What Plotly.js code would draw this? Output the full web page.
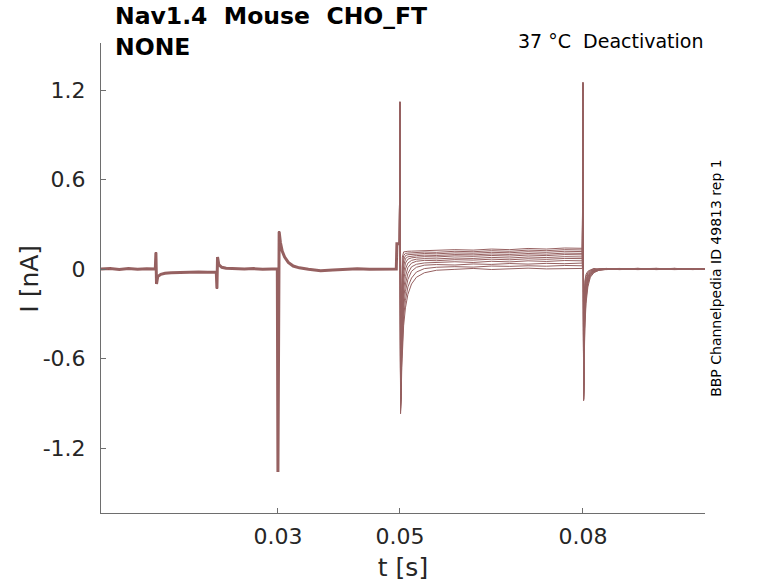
<!DOCTYPE html>
<html>
<head>
<meta charset="utf-8">
<script src="https://cdn.plot.ly/plotly-3.0.1.min.js"></script>
<style>
  body { margin: 0; background: #fff; }
  #main-plot { width: 778px; height: 583px; }
</style>
</head>
<body>
<div id="main-plot"></div>
<script>
// shared part of every sweep (holding + pre-pulses + activating step), time in s, current in nA
const tPre = [0.0010, 0.0025, 0.0040, 0.0055, 0.0070, 0.0085, 0.0099, 0.0100, 0.0101, 0.0103,
  0.0108, 0.0115, 0.0125, 0.0140, 0.0155, 0.0170, 0.0185, 0.0199, 0.0200, 0.0201,
  0.0203, 0.0208, 0.0215, 0.0230, 0.0245, 0.0260, 0.0275, 0.0290, 0.0299, 0.0300,
  0.0302, 0.0304, 0.0307, 0.0311, 0.0317, 0.0325, 0.0335, 0.0350, 0.0370, 0.0390,
  0.0410, 0.0430, 0.0450, 0.0470, 0.0494, 0.0495, 0.0499];
const iPre = [0.000, 0.004, -0.003, 0.003, -0.002, 0.002, 0.000, 0.11, -0.10, -0.05,
  -0.035, -0.028, -0.025, -0.022, -0.024, -0.020, -0.022, -0.022, -0.13, 0.08,
  0.03, 0.012, 0.005, 0.002, 0.000, 0.003, -0.002, 0.001, 0.000, -1.36,
  0.25, 0.18, 0.12, 0.08, 0.045, 0.02, 0.008, -0.002, -0.012, -0.006,
  0.000, 0.002, -0.002, 0.001, 0.000, 0.17, 0.17];

// deactivation step + tail, one array per sweep
const tPost = [0.0500, 0.0501, 0.0502, 0.0503, 0.0504, 0.0506, 0.0509, 0.0513, 0.0519, 0.0527,
  0.0540, 0.0560, 0.0590, 0.0620, 0.0650, 0.0680, 0.0710, 0.0740, 0.0770, 0.0799,
  0.0800, 0.0801, 0.0802, 0.0803, 0.0805, 0.0808, 0.0812, 0.0818, 0.0826, 0.0838,
  0.0860, 0.0890, 0.0920, 0.0950, 0.0980, 0.1000];
const sweep1 = [1.10, -0.97, -0.85, -0.66, -0.52, -0.38, -0.26, -0.17, -0.10, -0.055, -0.025, -0.008, -0.002, 0.004, -0.003, 0.002, 0.006, 0.001, 0.005, 0.004, 1.20, -0.80, -0.22, -0.08, -0.035, -0.015, -0.006, 0.004, -0.003, 0.002, -0.004, 0.003, -0.002, 0.004, -0.003, 0.001];
const sweep2 = [1.11, -0.95, -0.80, -0.60, -0.46, -0.32, -0.21, -0.12, -0.06, -0.02, 0.003, 0.012, 0.016, 0.013, 0.020, 0.018, 0.022, 0.019, 0.024, 0.022, 1.21, -0.82, -0.28, -0.11, -0.05, -0.022, -0.01, 0.002, -0.005, 0.004, -0.002, 0.005, -0.004, 0.002, 0.000, -0.003];
const sweep3 = [1.11, -0.94, -0.76, -0.55, -0.40, -0.26, -0.15, -0.07, -0.015, 0.012, 0.026, 0.030, 0.027, 0.034, 0.031, 0.037, 0.033, 0.038, 0.036, 0.040, 1.22, -0.83, -0.33, -0.14, -0.07, -0.03, -0.014, -0.003, 0.003, -0.004, 0.002, -0.003, 0.004, -0.002, 0.003, 0.000];
const sweep4 = [1.12, -0.93, -0.72, -0.50, -0.34, -0.20, -0.10, -0.03, 0.015, 0.032, 0.041, 0.045, 0.049, 0.044, 0.052, 0.048, 0.055, 0.051, 0.057, 0.055, 1.22, -0.84, -0.38, -0.17, -0.085, -0.04, -0.018, -0.006, 0.001, 0.004, -0.003, 0.002, -0.001, 0.005, -0.004, 0.002];
const sweep5 = [1.12, -0.92, -0.68, -0.45, -0.28, -0.14, -0.05, 0.01, 0.04, 0.052, 0.058, 0.056, 0.063, 0.060, 0.066, 0.062, 0.069, 0.065, 0.071, 0.070, 1.23, -0.85, -0.42, -0.20, -0.10, -0.05, -0.023, -0.009, -0.002, 0.003, -0.002, 0.004, -0.003, 0.001, 0.003, -0.002];
const sweep6 = [1.12, -0.91, -0.63, -0.39, -0.22, -0.08, 0.00, 0.04, 0.058, 0.066, 0.070, 0.068, 0.074, 0.071, 0.078, 0.074, 0.081, 0.077, 0.083, 0.081, 1.23, -0.86, -0.46, -0.23, -0.12, -0.06, -0.027, -0.011, -0.003, 0.002, 0.004, -0.003, 0.002, -0.004, 0.001, 0.003];
const sweep7 = [1.12, -0.90, -0.58, -0.33, -0.16, -0.03, 0.04, 0.066, 0.075, 0.079, 0.083, 0.081, 0.088, 0.085, 0.091, 0.087, 0.094, 0.090, 0.097, 0.095, 1.24, -0.87, -0.50, -0.26, -0.14, -0.07, -0.032, -0.013, -0.004, 0.001, -0.003, 0.002, 0.005, -0.002, 0.002, -0.001];
const sweep8 = [1.12, -0.90, -0.52, -0.27, -0.10, 0.02, 0.07, 0.082, 0.087, 0.090, 0.093, 0.091, 0.097, 0.095, 0.101, 0.098, 0.104, 0.100, 0.107, 0.105, 1.24, -0.87, -0.53, -0.29, -0.16, -0.08, -0.037, -0.016, -0.005, 0.000, 0.003, -0.004, 0.002, 0.001, -0.003, 0.002];
const sweep9 = [1.12, -0.89, -0.46, -0.20, -0.04, 0.06, 0.09, 0.096, 0.098, 0.100, 0.104, 0.102, 0.108, 0.106, 0.112, 0.109, 0.116, 0.112, 0.119, 0.117, 1.25, -0.88, -0.56, -0.32, -0.18, -0.09, -0.042, -0.018, -0.006, -0.001, 0.002, 0.004, -0.003, 0.002, 0.000, 0.003];
const sweep10 = [1.12, -0.88, -0.40, -0.12, 0.02, 0.09, 0.105, 0.107, 0.108, 0.110, 0.114, 0.112, 0.119, 0.116, 0.123, 0.119, 0.127, 0.123, 0.130, 0.128, 1.25, -0.88, -0.59, -0.36, -0.20, -0.10, -0.048, -0.021, -0.008, -0.002, 0.001, -0.002, 0.004, -0.003, 0.002, 0.000];
const sweep11 = [1.12, -0.87, -0.32, -0.04, 0.08, 0.115, 0.118, 0.119, 0.120, 0.121, 0.125, 0.123, 0.130, 0.127, 0.134, 0.130, 0.138, 0.134, 0.141, 0.139, 1.25, -0.88, -0.62, -0.40, -0.23, -0.12, -0.055, -0.024, -0.009, -0.003, 0.000, 0.003, -0.002, 0.004, -0.001, 0.002];
const sweeps = [sweep1, sweep2, sweep3, sweep4, sweep5, sweep6, sweep7, sweep8, sweep9, sweep10, sweep11];

const xTicks = [0.03, 0.05, 0.08];
const yTicks = [-1.2, -0.6, 0, 0.6, 1.2];
const yTickText = ['-1.2', '-0.6', '0', '0.6', '1.2'];

const traceColor = 'rgb(150,97,97)';
const fontFamily = 'DejaVu Sans, sans-serif';
const textColor = 'rgb(38,38,38)';

const traces = [];
// overlapping sweeps make the common part look like a thick band
traces.push({
  x: tPre, y: iPre, type: 'scatter', mode: 'lines',
  line: {color: traceColor, width: 3}, hoverinfo: 'skip'
});
sweeps.forEach(sweep => {
  traces.push({
    x: tPre.concat(tPost), y: iPre.concat(sweep),
    type: 'scatter', mode: 'lines',
    line: {color: traceColor, width: 1}, hoverinfo: 'skip'
  });
});

const axisColor = 'rgb(110,110,110)';
const layout = {
  width: 778, height: 583,
  margin: {l: 101, r: 73, t: 43, b: 70},
  paper_bgcolor: '#fff', plot_bgcolor: '#fff',
  showlegend: false,
  font: {family: fontFamily, color: textColor},
  xaxis: {
    range: [0.001, 0.1],
    tickvals: xTicks, ticktext: xTicks.map(String),
    ticks: 'inside', ticklen: 5, tickcolor: axisColor,
    showline: true, linecolor: axisColor, linewidth: 1,
    showgrid: false, zeroline: false,
    tickfont: {size: 22, family: fontFamily, color: textColor},
    ticklabelstandoff: 4,
    title: {text: 't [s]', font: {size: 25, family: fontFamily, color: textColor}, standoff: 10}
  },
  yaxis: {
    range: [-1.635, 1.515],
    tickvals: yTicks, ticktext: yTickText,
    ticks: 'inside', ticklen: 5, tickcolor: axisColor,
    showline: true, linecolor: axisColor, linewidth: 1,
    showgrid: false, zeroline: false,
    tickfont: {size: 22, family: fontFamily, color: textColor},
    ticklabelstandoff: 10
  },
  annotations: [
    {
      text: 'I [nA]',
      xref: 'paper', yref: 'paper', x: -0.118, y: 0.498,
      xanchor: 'center', yanchor: 'middle', textangle: -90, showarrow: false,
      font: {size: 25, family: fontFamily, color: textColor}
    },
    {
      text: '<b>Nav1.4  Mouse  CHO_FT<br>NONE</b>',
      xref: 'paper', yref: 'paper', x: 0.02, y: 1.092,
      xanchor: 'left', yanchor: 'top', align: 'left', showarrow: false,
      font: {size: 23.5, family: fontFamily, color: '#000'}
    },
    {
      text: '37 °C  Deactivation',
      xref: 'paper', yref: 'paper', x: 1.0, y: 1.004,
      xanchor: 'right', yanchor: 'middle', showarrow: false,
      font: {size: 19, family: fontFamily, color: '#000'}
    },
    {
      text: 'BBP Channelpedia ID 49813 rep 1',
      xref: 'paper', yref: 'paper', x: 1.018, y: 0.5,
      xanchor: 'center', yanchor: 'middle', textangle: -90, showarrow: false,
      font: {size: 14, family: fontFamily, color: '#000'}
    }
  ]
};

Plotly.newPlot('main-plot', traces, layout, {staticPlot: true, displayModeBar: false});
</script>
</body>
</html>
